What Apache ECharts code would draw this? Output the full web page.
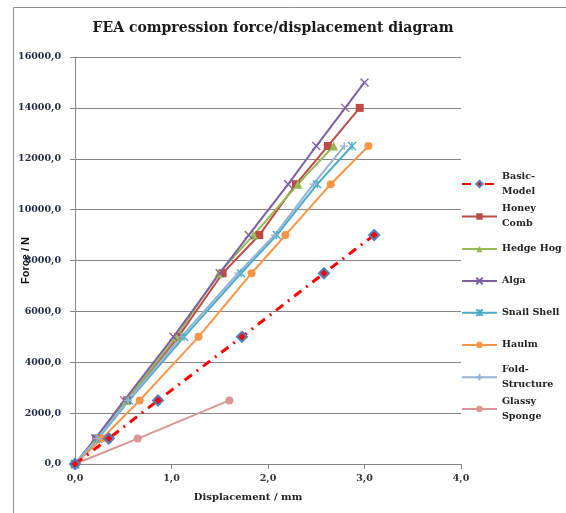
<!DOCTYPE html>
<html><head><meta charset="utf-8">
<script src="https://cdn.jsdelivr.net/npm/echarts@6/dist/echarts.min.js"></script>
<style>html,body{margin:0;padding:0;background:#fff}#c{width:566px;height:513px}</style>
</head><body><div id="c"></div>
<script>
const titleText = 'FEA compression force/displacement diagram';
const xName = 'Displacement / mm';
const yName = 'Force / N';

const basicX = [0, 0.35, 0.86, 1.73, 2.58, 3.10];
const basicY = [0, 1000, 2500, 5000, 7500, 9000];
const honeyX = [0, 0.22, 0.54, 1.07, 1.53, 1.91, 2.29, 2.62, 2.95];
const honeyY = [0, 1000, 2500, 5000, 7500, 9000, 11000, 12500, 14000];
const hedgeX = [0, 0.22, 0.53, 1.05, 1.49, 1.85, 2.31, 2.68];
const hedgeY = [0, 1000, 2500, 5000, 7500, 9000, 11000, 12500];
const algaX = [0, 0.21, 0.51, 1.02, 1.50, 1.80, 2.21, 2.50, 2.80, 3.00];
const algaY = [0, 1000, 2500, 5000, 7500, 9000, 11000, 12500, 14000, 15000];
const snailX = [0, 0.24, 0.56, 1.13, 1.72, 2.09, 2.51, 2.87];
const snailY = [0, 1000, 2500, 5000, 7500, 9000, 11000, 12500];
const haulmX = [0, 0.28, 0.67, 1.28, 1.83, 2.18, 2.65, 3.04];
const haulmY = [0, 1000, 2500, 5000, 7500, 9000, 11000, 12500];
const foldX = [0, 0.23, 0.55, 1.10, 1.69, 2.07, 2.47, 2.79];
const foldY = [0, 1000, 2500, 5000, 7500, 9000, 11000, 12500];
const glassyX = [0, 0.65, 1.60];
const glassyY = [0, 1000, 2500];

const seriesNames = ['Basic-Model','Honey Comb','Hedge Hog','Alga','Snail Shell','Haulm','Fold-Structure','Glassy Sponge'];
const legendLabels = ['Basic-\nModel','Honey\nComb','Hedge Hog','Alga','Snail Shell','Haulm','Fold-\nStructure','Glassy\nSponge'];

const pair = (xs, ys) => xs.map((x, i) => [x, ys[i]]);
const serif = 'DejaVu Serif';
const SX = 'path://M0,0L10,10M10,0L0,10';
const SAST = 'path://M0,0L10,10M10,0L0,10M5,0L5,10';
const SPLUS = 'path://M5,0L5,10M0,5L10,5';

function mk(name, data, color, symbol, size, extra) {
  const stroke = symbol.indexOf('path://') === 0;
  return Object.assign({
    name, type: 'line', data, symbol, symbolSize: size, symbolKeepAspect: true,
    lineStyle: {color, width: 2},
    itemStyle: stroke ? {color, borderColor: color, borderWidth: 1.3} : {color},
    z: 2
  }, extra || {});
}

const series = [
  mk('Honey Comb', pair(honeyX, honeyY), '#BE4B48', 'rect', 8),
  mk('Hedge Hog', pair(hedgeX, hedgeY), '#98B954', 'triangle', 9),
  mk('Alga', pair(algaX, algaY), '#7D60A0', SX, 8),
  mk('Snail Shell', pair(snailX, snailY), '#4BACC6', SAST, 8),
  mk('Haulm', pair(haulmX, haulmY), '#F79646', 'circle', 8),
  mk('Fold-Structure', pair(foldX, foldY), '#95B3D7', SPLUS, 8),
  mk('Glassy Sponge', pair(glassyX, glassyY), '#D99694', 'circle', 8),
  mk('Basic-Model', pair(basicX, basicY), '#FF0000', 'diamond', 10, {
    lineStyle: {color: '#FF0000', width: 3, type: [9, 6, 2, 6]},
    itemStyle: {color: '#FF0000', borderColor: '#4F81BD', borderWidth: 2}, z: 3
  })
];

const centers = [184, 216.5, 249, 281, 312.7, 345, 377.3, 409];
const LH = 15;
const IH = 8;
const legends = seriesNames.map((n, i) => {
  const two = legendLabels[i].indexOf('\n') >= 0;
  return {
    data: [n], orient: 'vertical', left: 461, padding: 0,
    top: two ? centers[i] - LH * 1.5 : centers[i] - LH / 2,
    itemWidth: 35, itemHeight: IH, selectedMode: false,
    formatter: () => legendLabels[i],
    textStyle: {fontFamily: serif, fontWeight: 'bold', fontSize: 9.5, color: '#222', lineHeight: LH,
      padding: two ? [LH, 0, 0, 0] : 0}
  };
});

const fmt = v => v.toFixed(1).replace('.', ',');
const chart = echarts.init(document.getElementById('c'), null, {renderer: 'canvas'});
chart.setOption({
  animation: false,
  backgroundColor: '#fff',
  title: {text: titleText, left: 268, top: 16, textAlign: 'center',
    textStyle: {fontFamily: serif, fontWeight: 'bold', fontSize: 14, color: '#1a1a1a'}},
  graphic: [{type: 'rect', shape: {x: 13.5, y: 7.5, width: 600, height: 600},
    style: {fill: 'none', stroke: '#8f8f8f', lineWidth: 1}, silent: true}],
  legend: legends,
  grid: {left: 75, right: 105, top: 57, bottom: 49, containLabel: false, outerBoundsMode: 'none'},
  xAxis: {type: 'value', min: 0, max: 4, interval: 1,
    name: xName, nameLocation: 'middle', nameGap: 28, nameMoveOverlap: false,
    nameTextStyle: {fontFamily: serif, fontWeight: 'bold', fontSize: 10, color: '#222', padding: [0, 40, 0, 0]},
    axisLine: {lineStyle: {color: '#868686'}},
    axisTick: {show: true, length: 5, lineStyle: {color: '#868686'}},
    splitLine: {show: false},
    axisLabel: {formatter: fmt, margin: 10, fontFamily: serif, fontWeight: 'bold', fontSize: 9.5, color: '#333'}},
  yAxis: {type: 'value', min: 0, max: 16000, interval: 2000,
    name: yName, nameLocation: 'middle', nameGap: 44, nameRotate: 90, nameMoveOverlap: false,
    nameTextStyle: {fontFamily: 'Liberation Sans', fontWeight: 'bold', fontSize: 11, color: '#111'},
    axisLine: {show: true, lineStyle: {color: '#868686'}},
    axisTick: {show: true, length: 5, lineStyle: {color: '#868686'}},
    splitLine: {lineStyle: {color: '#868686'}},
    axisLabel: {formatter: fmt, margin: 14, fontFamily: serif, fontWeight: 'bold', fontSize: 9.5, color: '#1f2a44'}},
  series
});
</script></body></html>
